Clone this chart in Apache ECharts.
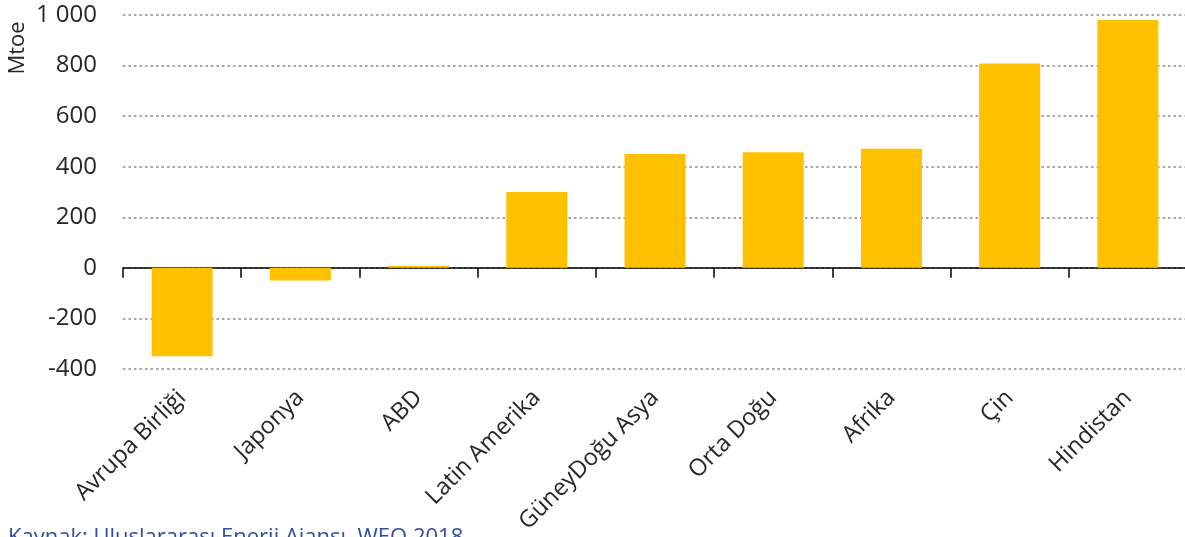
<!DOCTYPE html>
<html>
<head>
<meta charset="utf-8">
<script src="https://cdn.jsdelivr.net/npm/echarts@6/dist/echarts.min.js"></script>
<style>
  html, body { margin: 0; padding: 0; background: #fff; }
  #main { width: 1185px; height: 537px; }
</style>
</head>
<body>
<div id="main"></div>
<script>
const regions = ["Avrupa Birliği", "Japonya", "ABD", "Latin Amerika", "GüneyDoğu Asya", "Orta Doğu", "Afrika", "Çin", "Hindistan"];
const demandChange = [-350, -50, 8, 300, 450, 457, 471, 808, 980];
const yMin = -400;
const yMax = 1000;
const yStep = 200;

const font = "'Open Sans', sans-serif";
const chart = echarts.init(document.getElementById("main"));

const option = {
  animation: false,
  grid: { left: 123, top: 15, bottom: 168, width: 1064, containLabel: false, outerBoundsMode: "none" },
  xAxis: {
    type: "category",
    data: regions,
    axisLine: { onZero: true, lineStyle: { color: "#000", width: 1.5 } },
    axisTick: { show: true, length: 10, lineStyle: { color: "#000", width: 1.5 } },
    axisLabel: {
      rotate: 45,
      margin: 25,
      interval: 0,
      fontFamily: font,
      fontSize: 23.5,
      color: "#262626"
    }
  },
  yAxis: {
    type: "value",
    min: yMin,
    max: yMax,
    interval: yStep,
    axisLine: { show: false },
    axisTick: { show: false },
    axisLabel: {
      margin: 26,
      fontFamily: font,
      fontSize: 24,
      color: "#262626",
      formatter: v => v >= 1000 ? String(v).replace(/(\d)(\d{3})$/, "$1 $2") : String(v)
    },
    splitLine: { lineStyle: { color: "#A6A6A6", width: 2, type: [2.5, 3] } }
  },
  graphic: [
    {
      type: "text",
      x: 18, y: 48,
      rotation: Math.PI / 2,
      style: { text: "Mtoe", fontFamily: font, fontSize: 22, fill: "#262626", align: "center", verticalAlign: "middle" }
    },
    {
      type: "text",
      left: 8, top: 527,
      style: { text: "Kaynak: Uluslararası Enerji Ajansı, WEO 2018", fontFamily: font, fontSize: 22, fill: "#2F4EA0" }
    }
  ],
  series: [{
    type: "bar",
    data: demandChange,
    barWidth: 61,
    itemStyle: { color: "#FFC000" }
  }]
};

chart.setOption(option);
</script>
</body>
</html>
